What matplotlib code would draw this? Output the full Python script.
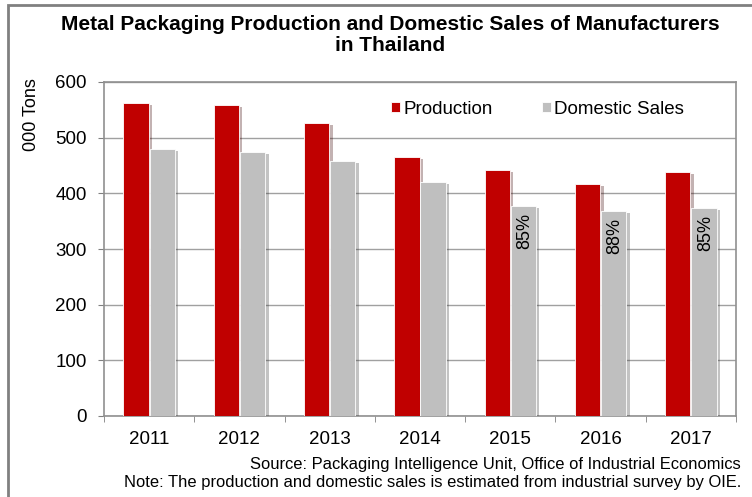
import numpy as np
import matplotlib.pyplot as plt
import matplotlib.patheffects as pe
from matplotlib.patches import Rectangle

plt.rcParams['font.family'] = ['Liberation Sans', 'DejaVu Sans']

years = ['2011', '2012', '2013', '2014', '2015', '2016', '2017']
production = [562, 559, 526, 465, 442, 417, 438]
domestic_sales = [480, 474, 458, 420, 377, 368, 373]
share_labels = {4: '85%', 5: '88%', 6: '85%'}

fig = plt.figure(figsize=(7.52, 4.97), dpi=100)
ax = fig.add_axes([104 / 752, 1 - 416 / 497, 632 / 752, 334 / 497])

x = np.arange(len(years))
w = 0.28
b1 = ax.bar(x - w / 2 - 0.005, production, w, color='#c00000', edgecolor='white',
            linewidth=0.6, label='Production', zorder=3)
b2 = ax.bar(x + w / 2 + 0.005, domestic_sales, w, color='#bfbfbf', edgecolor='white',
            linewidth=0.6, label='Domestic Sales', zorder=3)

# share of domestic sales in production
for i, txt in share_labels.items():
    ax.annotate(txt, (x[i] + w / 2 + 0.005, domestic_sales[i]), xytext=(1, -5),
                textcoords='offset points', rotation=90, ha='center', va='top',
                fontsize=13, zorder=4)

ax.set_xlim(-0.5, len(years) - 0.5)
ax.set_ylim(0, 600)
ax.set_yticks(range(0, 601, 100))
ax.set_xticks(x)
ax.set_xticklabels(years)
ax.set_xticks(np.arange(-0.5, len(years), 1), minor=True)
ax.tick_params(axis='x', which='major', length=0, pad=11, labelsize=13.5)
ax.tick_params(axis='x', which='minor', length=4.5, color='#808080')
ax.tick_params(axis='y', length=4.5, color='#808080', pad=8, labelsize=13.5)
ax.grid(axis='y', color='#a0a0a0', linewidth=1, zorder=0)
for s in ax.spines.values():
    s.set_color('#909090')
    s.set_linewidth(1.2)

ax.legend(loc='upper right', bbox_to_anchor=(0.945, 0.995), ncol=2, frameon=False,
          fontsize=13.5, handlelength=0.48, handleheight=0.48, handletextpad=0.2,
          columnspacing=2.6)

# soft drop shadow on the bars (added after the legend so handles stay flat)
shadow = [pe.SimplePatchShadow(offset=(2.5, -1.5), alpha=0.3), pe.Normal()]
for b in list(b1) + list(b2):
    b.set_path_effects(shadow)

fig.text(390 / 752, 1 - 35 / 497,
         'Metal Packaging Production and Domestic Sales of Manufacturers\nin Thailand',
         ha='center', va='center', fontsize=15, fontweight='bold', linespacing=1.15)
fig.text(32 / 752, 1 - 115 / 497, '000 Tons', rotation=90, ha='center',
         va='center', fontsize=13)
fig.text(741 / 752, 1 - 465 / 497,
         'Source: Packaging Intelligence Unit, Office of Industrial Economics',
         ha='right', va='center', fontsize=11.9)
fig.text(741 / 752, 1 - 483 / 497,
         'Note: The production and domestic sales is estimated from industrial survey by OIE.',
         ha='right', va='center', fontsize=11.9)

fig.patches.append(Rectangle((8 / 752, -0.1), 1.2, 1 - 5 / 497 + 0.1,
                             transform=fig.transFigure, fill=False,
                             edgecolor='#808080', linewidth=2))

fig.savefig('out.png', dpi=100)
